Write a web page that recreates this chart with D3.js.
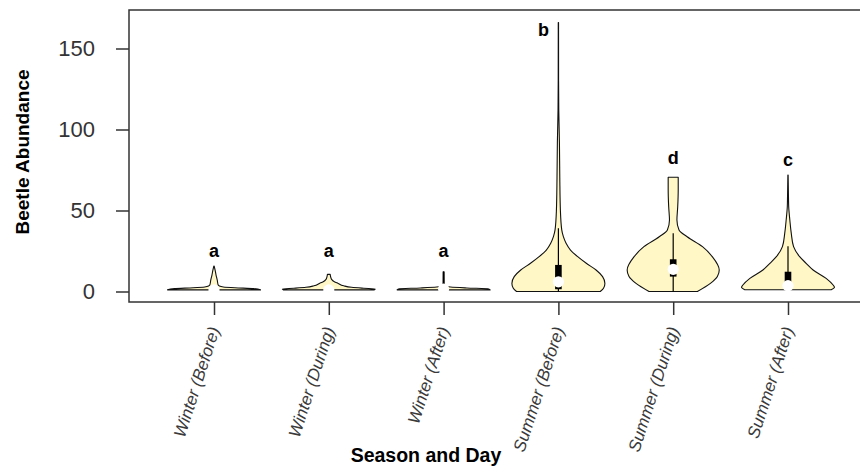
<!DOCTYPE html>
<html>
<head>
<meta charset="utf-8">
<script src="https://cdn.jsdelivr.net/npm/d3@7"></script>
<style>
  html, body { margin: 0; padding: 0; background: #fff; }
  svg { display: block; }
</style>
</head>
<body>
<svg id="chart" width="860" height="466"></svg>
<script>
// Groups along the x axis
const categories = ["Winter (Before)", "Winter (During)", "Winter (After)",
                    "Summer (Before)", "Summer (During)", "Summer (After)"];

// Significance letters and the abundance value they sit at
const letters = ["a", "a", "a", "b", "d", "c"];
const letterValues = [21, 21, 21, 158, 79, 77.5];

// Box summaries per group
const medians      = [1, 1, 1.5, 6, 13.7, 3.6];
const lowerQuart   = [1, 1, 1, 1.4, 9.2, 1.2];
const upperQuart   = [2, 2, 2, 16.4, 19.9, 12.2];
const whiskerLow   = [1, 1, 1, 0, 0, 1];
const whiskerHigh  = [3, 4, 12.2, 39, 36, 28];

// Kernel density profiles: [abundance, relative width] (each scaled to its own max)
const densWinterBefore = [[1, 1.0], [1.8, 0.85], [2.3, 0.45], [2.8, 0.2], [3.5, 0.11], [4, 0.09],
                          [7, 0.07], [10, 0.045], [13, 0.025], [15.7, 0.004]];
const densWinterDuring = [[1, 0.98], [1.5, 1.0], [2, 0.75], [2.6, 0.49], [3.5, 0.32], [5, 0.2],
                          [6, 0.12], [7.5, 0.06], [9, 0.04], [10.6, 0.03]];
const densWinterAfter  = [[1, 1.0], [1.6, 0.97], [2.2, 0.5], [2.8, 0.15], [3.5, 0.03], [5, 0.012],
                          [12.2, 0.01]];
const densSummerBefore = [[0, 0.9], [2, 0.97], [5, 1.0], [9.2, 0.95], [13.3, 0.81], [17.4, 0.6],
                          [21.5, 0.415], [25.6, 0.26], [29.8, 0.165], [33.9, 0.107], [38, 0.072],
                          [50, 0.043], [70, 0.03], [92, 0.022], [112, 0.008], [130, 0.004], [166, 0.003]];
const densSummerDuring = [[0, 0.52], [5, 0.8], [9.2, 0.95], [13.3, 0.99], [21.5, 0.84], [27.7, 0.63],
                          [33.8, 0.3], [38, 0.125], [44.1, 0.08], [52.3, 0.097], [62.7, 0.108], [70.5, 0.108]];
const densSummerAfter  = [[1.1, 0.93], [2.6, 1.0], [4, 0.97], [8.1, 0.82], [13.3, 0.54], [17.4, 0.39],
                          [21.5, 0.25], [27.7, 0.12], [36, 0.07], [44, 0.04], [52.3, 0.015],
                          [58.5, 0.01], [71.9, 0.003]];
const densities = [densWinterBefore, densWinterDuring, densWinterAfter,
                   densSummerBefore, densSummerDuring, densSummerAfter];

const yTicks = [0, 50, 100, 150];

// Layout
const frame = { left: 129, right: 872, top: 10, bottom: 302 };
const halfWidth = 46.5;
const fillColor = "#FFF7C6";

const svg = d3.select("#chart");

const x = d3.scalePoint().domain(categories).range([214, 788]);
const y = d3.scaleLinear().domain([0, 150]).range([291.5, 48.5]);

// Plot frame
svg.append("rect")
  .attr("x", frame.left).attr("y", frame.top)
  .attr("width", frame.right - frame.left).attr("height", frame.bottom - frame.top)
  .attr("fill", "none").attr("stroke", "#333").attr("stroke-width", 1.5);

// Y axis
const yAxis = d3.axisLeft(y).tickValues(yTicks).tickSize(13).tickPadding(21);
const gy = svg.append("g").attr("transform", `translate(${frame.left},0)`).call(yAxis);
gy.select(".domain").remove();
gy.selectAll(".tick line").attr("stroke", "#333").attr("stroke-width", 1.5);
gy.selectAll(".tick text")
  .attr("fill", "#333")
  .style("font-family", "'Liberation Sans', Arial, sans-serif")
  .style("font-size", "22px");

// X axis
const xAxis = d3.axisBottom(x).tickSize(13).tickFormat("");
const gx = svg.append("g").attr("transform", `translate(0,${frame.bottom})`).call(xAxis);
gx.select(".domain").remove();
gx.selectAll(".tick line").attr("stroke", "#333").attr("stroke-width", 1.5);

// Rotated category labels
svg.append("g").selectAll("text")
  .data(categories)
  .join("text")
  .attr("transform", d => `translate(${x(d) + 6},${frame.bottom + 27}) rotate(-72)`)
  .attr("text-anchor", "end")
  .attr("fill", "#3a3a3a")
  .style("font-family", "'Liberation Sans', Arial, sans-serif")
  .style("font-style", "italic")
  .style("font-size", "17px")
  .text(d => d);

// Axis titles
svg.append("text")
  .attr("x", 426).attr("y", 462)
  .attr("text-anchor", "middle")
  .style("font-family", "'Liberation Sans', Arial, sans-serif")
  .style("font-weight", "bold")
  .style("font-size", "19.5px")
  .text("Season and Day");

svg.append("text")
  .attr("transform", "translate(29,152) rotate(-90)")
  .attr("text-anchor", "middle")
  .style("font-family", "'Liberation Sans', Arial, sans-serif")
  .style("font-weight", "bold")
  .style("font-size", "19px")
  .text("Beetle Abundance");

// Violins
const groups = svg.append("g").selectAll("g")
  .data(categories.map((c, i) => ({ c, i })))
  .join("g");

groups.append("path")
  .attr("d", d => {
    const cx = x(d.c);
    return d3.area()
      .curve(d3.curveMonotoneY)
      .y(p => y(p[0]))
      .x0(p => cx - halfWidth * p[1])
      .x1(p => cx + halfWidth * p[1])(densities[d.i]);
  })
  .attr("fill", fillColor)
  .attr("stroke", "#111")
  .attr("stroke-width", 1.1)
  .attr("stroke-linejoin", "round");

// Whiskers
groups.append("line")
  .attr("x1", d => x(d.c)).attr("x2", d => x(d.c))
  .attr("y1", d => y(whiskerLow[d.i])).attr("y2", d => y(whiskerHigh[d.i]))
  .attr("stroke", "#000").attr("stroke-width", 1.2);

// Interquartile boxes
groups.append("rect")
  .attr("x", d => x(d.c) - 3.3)
  .attr("width", 6.6)
  .attr("y", d => y(upperQuart[d.i]))
  .attr("height", d => Math.max(0.5, y(lowerQuart[d.i]) - y(upperQuart[d.i])))
  .attr("fill", "#000");

// Medians
groups.append("circle")
  .attr("cx", d => x(d.c))
  .attr("cy", d => y(medians[d.i]))
  .attr("r", 5.6)
  .attr("fill", "#fff");

// Group letters
groups.append("text")
  .attr("x", d => x(d.c) + (letters[d.i] === "b" ? -15 : 0))
  .attr("y", d => y(letterValues[d.i]))
  .attr("text-anchor", "middle")
  .style("font-family", "'Liberation Sans', Arial, sans-serif")
  .style("font-weight", "bold")
  .style("font-size", "18px")
  .text(d => letters[d.i]);
</script>
</body>
</html>
